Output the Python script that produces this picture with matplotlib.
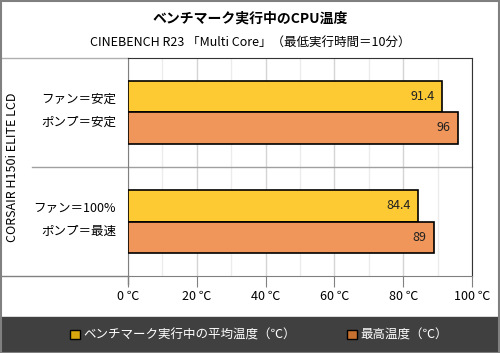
""" CPU temperature bar chart with Matplotlib """

import matplotlib.pyplot as plt
from matplotlib.patches import Rectangle
from matplotlib.transforms import blended_transform_factory
import numpy as np

plt.rcParams['font.family'] = ['Noto Sans CJK JP', 'DejaVu Sans']

# Data
cat_line1 = ["ファン＝安定", "ファン＝100%"]
cat_line2 = ["ポンプ＝安定", "ポンプ＝最速"]
avg_temp = [91.4, 84.4]
max_temp = [96, 89]
series_names = ["ベンチマーク実行中の平均温度（℃）", "最高温度（℃）"]
x_ticks = [0, 20, 40, 60, 80, 100]
x_tick_labels = ["0 ℃", "20 ℃", "40 ℃", "60 ℃", "80 ℃", "100 ℃"]
group_label = "CORSAIR H150i ELITE LCD"

bar_colors = ["#FDCA33", "#F0965A"]
legend_colors = ["#D9A60E", "#C8702F"]

fig = plt.figure(figsize=(5, 3.53), dpi=100)
ax = fig.add_axes([0.256, 0.218, 0.688, 0.618])

y = np.arange(len(cat_line1))
h = 0.285
ax.barh(y - h / 2, avg_temp, height=h, color=bar_colors[0], edgecolor="black", linewidth=1.2, zorder=3)
ax.barh(y + h / 2, max_temp, height=h, color=bar_colors[1], edgecolor="black", linewidth=1.2, zorder=3)

for yy, v in zip(y - h / 2, avg_temp):
    ax.text(v - 2.2, yy, f"{v}", ha="right", va="center", fontsize=9, color="#222222", zorder=4)
for yy, v in zip(y + h / 2, max_temp):
    ax.text(v - 2.2, yy, f"{v}", ha="right", va="center", fontsize=9, color="#222222", zorder=4)

ax.set_xlim(0, 100)
ax.set_ylim(1.5, -0.5)
ax.set_xticks(x_ticks)
ax.set_xticklabels(x_tick_labels, fontsize=9)
ax.set_xticks(np.arange(10, 100, 20), minor=True)
ax.tick_params(axis="x", which="major", length=8, color="#808080", pad=2)
ax.tick_params(axis="x", which="minor", length=0)
ax.grid(True, axis="x", which="major", color="#d4d4d4", linewidth=1, zorder=0)
ax.grid(True, axis="x", which="minor", color="#ececec", linewidth=1, zorder=0)

# category labels, two lines each
ax.set_yticks([])
trans = blended_transform_factory(ax.transAxes, ax.transData)
for yy, l1, l2 in zip(y, cat_line1, cat_line2):
    ax.text(-0.035, yy - 0.125, l1, transform=trans, ha="right", va="center", fontsize=9)
    ax.text(-0.035, yy + 0.09, l2, transform=trans, ha="right", va="center", fontsize=9)

for s in ["left", "bottom"]:
    ax.spines[s].set_color("#808080")
for s in ["top", "right"]:
    ax.spines[s].set_color("#333333")

# group separator and extended axis lines
ax.plot([-0.28, 1], [0.5, 0.5], transform=ax.transAxes, color="#a0a0a0", linewidth=1, clip_on=False)
ax.plot([-0.38, 0], [0, 0], transform=ax.transAxes, color="#808080", linewidth=1, clip_on=False)
ax.plot([-0.38, 0], [1, 1], transform=ax.transAxes, color="#b0b0b0", linewidth=1, clip_on=False)
ax.plot([0, 0], [0, -0.035], transform=ax.transAxes, color="#808080", linewidth=1, clip_on=False)

fig.text(0.026, 0.527, group_label, rotation=90, ha="center", va="center", fontsize=9)

# Titles
fig.text(0.5, 0.947, "ベンチマーク実行中のCPU温度", ha="center", va="center", fontsize=10, fontweight="bold")
fig.text(0.5, 0.88, "CINEBENCH R23 「Multi Core」（最低実行時間＝10分）", ha="center", va="center", fontsize=9)

# Legend band
fig.patches.append(Rectangle((0, 0), 1, 0.102, transform=fig.transFigure, color="#404040", zorder=0))
handles = [Rectangle((0, 0), 1, 1, facecolor=c, edgecolor="black") for c in legend_colors]
fig.legend(handles, series_names, loc="center", bbox_to_anchor=(0.518, 0.051), ncol=2, frameon=False,
           fontsize=9, labelcolor="white", handlelength=0.75, handleheight=0.75, handletextpad=0.3,
           columnspacing=4.1)

# Outer border
fig.patches.append(Rectangle((0.001, 0.001), 0.997, 0.997, transform=fig.transFigure, fill=False,
                             edgecolor="#808080", linewidth=1.5, zorder=5))

plt.savefig("out.png", dpi=100)
